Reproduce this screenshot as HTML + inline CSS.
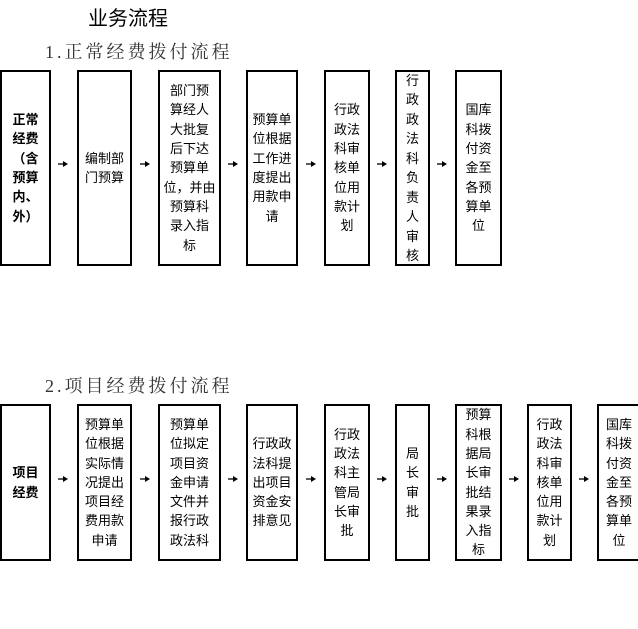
<!DOCTYPE html>
<html><head><meta charset="utf-8"><style>
body{margin:0;width:638px;height:629px;background:#fff;position:relative;overflow:hidden;font-family:"Liberation Sans","Noto Sans CJK SC",sans-serif;color:#000}
.b{position:absolute;border:2px solid #000;box-sizing:border-box;display:flex;align-items:center;justify-content:center;text-align:center;font-size:13px;line-height:19.3px}
.t{position:absolute;white-space:nowrap}
svg{position:absolute;left:0;top:0}
</style></head><body>
<div class="t" style="left:88px;top:2px;font-size:20px;">业务流程</div>
<div class="t" style="left:45px;top:38px;font-size:18px;letter-spacing:3px;color:#333;font-family:'Liberation Serif','Noto Serif CJK SC',serif;">1.正常经费拨付流程</div>
<div class="t" style="left:45px;top:372px;font-size:18px;letter-spacing:3px;color:#333;font-family:'Liberation Serif','Noto Serif CJK SC',serif;">2.项目经费拨付流程</div>

<div class="b" style="left:0;top:70px;width:51px;height:196px;font-weight:bold">正常<br>经费<br>（含<br>预算<br>内、<br>外）</div>
<div class="b" style="left:77px;top:70px;width:55px;height:196px">编制部<br>门预算</div>
<div class="b" style="left:158px;top:70px;width:63px;height:196px">部门预<br>算经人<br>大批复<br>后下达<br>预算单<br>位，并由<br>预算科<br>录入指<br>标</div>
<div class="b" style="left:246px;top:70px;width:52px;height:196px">预算单<br>位根据<br>工作进<br>度提出<br>用款申<br>请</div>
<div class="b" style="left:324px;top:70px;width:46px;height:196px">行政<br>政法<br>科审<br>核单<br>位用<br>款计<br>划</div>
<div class="b" style="left:395px;top:70px;width:35px;height:196px;line-height:19.5px">行<br>政<br>政<br>法<br>科<br>负<br>责<br>人<br>审<br>核</div>
<div class="b" style="left:455px;top:70px;width:47px;height:196px">国库<br>科拨<br>付资<br>金至<br>各预<br>算单<br>位</div>

<div class="b" style="left:0;top:404px;width:51px;height:157px;font-weight:bold">项目<br>经费</div>
<div class="b" style="left:77px;top:404px;width:55px;height:157px">预算单<br>位根据<br>实际情<br>况提出<br>项目经<br>费用款<br>申请</div>
<div class="b" style="left:158px;top:404px;width:63px;height:157px">预算单<br>位拟定<br>项目资<br>金申请<br>文件并<br>报行政<br>政法科</div>
<div class="b" style="left:246px;top:404px;width:52px;height:157px">行政政<br>法科提<br>出项目<br>资金安<br>排意见</div>
<div class="b" style="left:324px;top:404px;width:46px;height:157px">行政<br>政法<br>科主<br>管局<br>长审<br>批</div>
<div class="b" style="left:395px;top:404px;width:35px;height:157px">局<br>长<br>审<br>批</div>
<div class="b" style="left:455px;top:404px;width:47px;height:157px">预算<br>科根<br>据局<br>长审<br>批结<br>果录<br>入指<br>标</div>
<div class="b" style="left:527px;top:404px;width:45px;height:157px">行政<br>政法<br>科审<br>核单<br>位用<br>款计<br>划</div>
<div class="b" style="left:597px;top:404px;width:47px;height:157px;justify-content:flex-start;padding-left:7px">国库<br>科拨<br>付资<br>金至<br>各预<br>算单<br>位</div>

<svg width="638" height="629">
<defs><g id="ar"><line x1="0" y1="0" x2="7" y2="0" stroke="#000" stroke-width="1.3"/><polygon points="10,0 5,-3 5,3" fill="#000"/></g></defs>
<use href="#ar" x="58" y="164"/><use href="#ar" x="140" y="164"/><use href="#ar" x="228" y="164"/><use href="#ar" x="306" y="164"/><use href="#ar" x="377" y="164"/><use href="#ar" x="437" y="164"/>
<use href="#ar" x="58" y="479"/><use href="#ar" x="140" y="479"/><use href="#ar" x="228" y="479"/><use href="#ar" x="306" y="479"/><use href="#ar" x="377" y="479"/><use href="#ar" x="437" y="479"/><use href="#ar" x="509" y="479"/><use href="#ar" x="579" y="479"/>
</svg>
</body></html>
